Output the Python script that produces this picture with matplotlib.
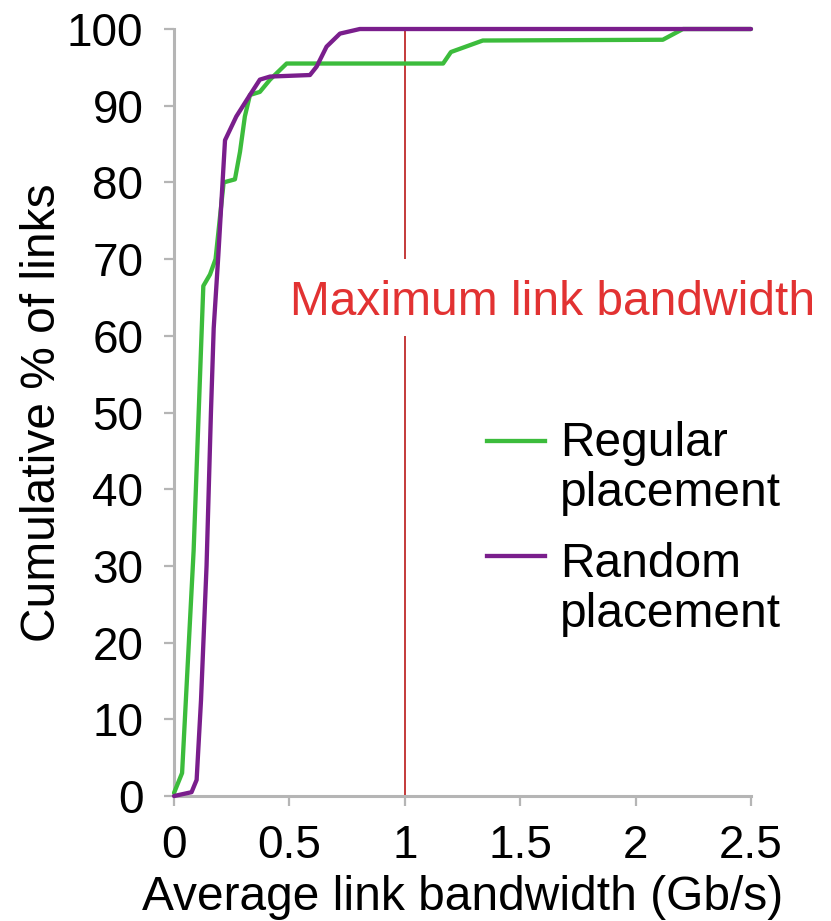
import matplotlib
matplotlib.use("Agg")
import matplotlib.pyplot as plt
from matplotlib.lines import Line2D

plt.rcParams['font.family'] = ['Liberation Sans', 'DejaVu Sans']

# Data
regular_x = [0.0, 0.035, 0.085, 0.127, 0.156, 0.180, 0.215, 0.264, 0.286, 0.307, 0.329, 0.372,
             0.416, 0.488, 1.166, 1.20, 1.338, 2.118, 2.205, 2.5]
regular_y = [0.4, 3.0, 32.0, 66.5, 68.0, 70.0, 80.0, 80.4, 84.0, 88.6, 91.4, 91.8,
             93.4, 95.5, 95.5, 97.0, 98.5, 98.6, 100.0, 100.0]

random_x = [0.0, 0.076, 0.098, 0.117, 0.141, 0.160, 0.172, 0.192, 0.221, 0.27, 0.329, 0.372,
            0.416, 0.589, 0.618, 0.661, 0.719, 0.805, 2.5]
random_y = [0.0, 0.5, 2.1, 12.5, 30.0, 50.0, 61.0, 70.5, 85.5, 88.6, 91.4, 93.4,
            93.8, 94.0, 95.1, 97.7, 99.4, 100.0, 100.0]

max_bw = 1.0
max_bw_segments_lo = [0.0, 70.0]
max_bw_segments_hi = [60.0, 100.0]

x_ticks = [0, 0.5, 1, 1.5, 2, 2.5]
x_tick_labels = ['0', '0.5', '1', '1.5', '2', '2.5']
y_ticks = [0, 10, 20, 30, 40, 50, 60, 70, 80, 90, 100]

GREEN = '#3cbc3c'
PURPLE = '#7a1e8c'
RED_LINE = '#c43a3a'
RED_TEXT = '#e23232'
GRAY = '#b5b5b5'
FS = 34.5
LW = 3.1

fig = plt.figure(figsize=(8.31, 9.21), dpi=100)
ax = fig.add_axes([0.2094, 0.1357, 0.6943, 0.8328])

ax.vlines([max_bw, max_bw], max_bw_segments_lo, max_bw_segments_hi,
          colors=RED_LINE, linewidth=1.4, zorder=1)
ax.text(1.64, 64.4, 'Maximum link bandwidth', color=RED_TEXT, fontsize=FS,
        ha='center', va='center', clip_on=False)

ax.plot(regular_x, regular_y, color=GREEN, linewidth=LW, clip_on=False, zorder=3,
        solid_capstyle='round', solid_joinstyle='round')
ax.plot(random_x, random_y, color=PURPLE, linewidth=LW, clip_on=False, zorder=4,
        solid_capstyle='round', solid_joinstyle='round')

ax.set_xlim(0, 2.5)
ax.set_ylim(0, 100)
ax.set_xticks(x_ticks)
ax.set_xticklabels(x_tick_labels)
ax.set_yticks(y_ticks)

for s in ['top', 'right']:
    ax.spines[s].set_visible(False)
for s in ['left', 'bottom']:
    ax.spines[s].set_color(GRAY)
    ax.spines[s].set_linewidth(2.2)
ax.tick_params(axis='both', direction='out', length=7.5, width=1.6, color=GRAY,
               labelsize=33, labelcolor='black')
ax.tick_params(axis='x', pad=13)
ax.tick_params(axis='y', pad=14.5)

ax.set_xlabel('Average link bandwidth (Gb/s)', fontsize=FS, labelpad=5)
ax.set_ylabel('Cumulative % of links', fontsize=FS, labelpad=1.5)

# Legend drawn manually (handle aligned with first text line)
leg_items = [('Regular\nplacement', GREEN, 0.463, 0.026), ('Random\nplacement', PURPLE, 0.313, 0.018)]
for label, col, yy, dy in leg_items:
    ax.add_line(Line2D([0.542, 0.643], [yy, yy], transform=ax.transAxes, color=col,
                       linewidth=LW, clip_on=False))
    ax.text(0.669, yy + dy, label, transform=ax.transAxes, fontsize=FS,
            ha='left', va='top', linespacing=1.13)

fig.savefig('out.png', dpi=100)
